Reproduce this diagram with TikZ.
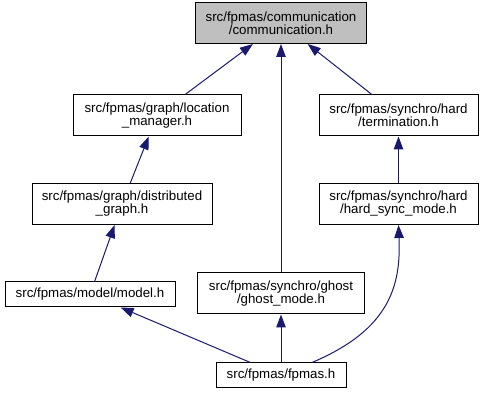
\documentclass[tikz,border=0pt]{standalone}
\usepackage{fontspec}
\setmainfont{Liberation Sans}
\usetikzlibrary{arrows.meta}
\definecolor{edgeblue}{HTML}{191970}
\definecolor{rootgray}{HTML}{BFBFBF}

\begin{document}
\begin{tikzpicture}[x=1pt,y=-1pt,
  file/.style={draw, line width=1pt, inner sep=0pt, align=center,
    minimum height=41pt, font=\fontsize{13.3}{13}\selectfont},
  incl/.style={draw=edgeblue, line width=1pt, -{Triangle[length=13pt,width=9.5pt]}}]
\useasboundingbox (0,0) rectangle (485,395);
\node[file, fill=rootgray, minimum width=171pt] (comm) at (281,23) {src/fpmas/communication\\/communication.h};
\node[file, minimum width=168pt] (locmgr) at (157,115.5) {src/fpmas/graph/location\\\_manager.h};
\node[file, minimum width=159pt] (termination) at (398.5,115.5) {src/fpmas/synchro/hard\\/termination.h};
\node[file, minimum width=180pt] (distgraph) at (122,204) {src/fpmas/graph/distributed\\\_graph.h};
\node[file, minimum width=159pt] (hardsync) at (398.5,204) {src/fpmas/synchro/hard\\/hard\_sync\_mode.h};
\node[file, minimum width=170pt, minimum height=25pt] (model) at (90,294.5) {src/fpmas/model/model.h};
\node[file, minimum width=167pt] (ghost) at (281,293.5) {src/fpmas/synchro/ghost\\/ghost\_mode.h};
\node[file, minimum width=130pt, minimum height=25pt] (fpmas) at (281,375.5) {src/fpmas/fpmas.h};
\draw[incl](locmgr) -- (comm);
\draw[incl](ghost) -- (comm);
\draw[incl](termination) -- (comm);
\draw[incl](distgraph) -- (locmgr);
\draw[incl](hardsync) -- (termination);
\draw[incl](model) -- (distgraph);
\draw[incl](fpmas) -- (model);
\draw[incl](fpmas) -- (ghost);
\draw[incl]([xshift=31pt]fpmas.north) .. controls +(78,-33) and +(2.5,60.5) .. (hardsync.south);

\end{tikzpicture}
\end{document}
